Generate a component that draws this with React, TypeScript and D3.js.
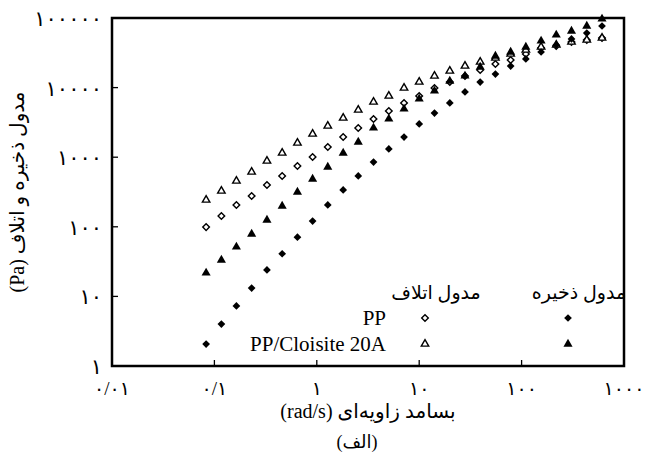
import React from "react";
import * as d3 from "d3";

// angular frequency, rad/s
const omega = [
  0.083, 0.117, 0.164, 0.231, 0.326, 0.459, 0.647, 0.91, 1.28, 1.81, 2.54, 3.58, 5.05, 7.11,
  10.0, 14.1, 19.9, 28.0, 39.4, 55.5, 78.2, 110, 155, 218, 307, 433, 610,
];

// PP storage modulus G' (Pa)
const ppStorage = [
  2.07, 4.0, 7.3, 13.2, 24, 41, 71, 121, 206, 338, 537, 853, 1312, 1950, 3000, 4315, 6010,
  8650, 12030, 15680, 20430, 25760, 32470, 40930, 49940, 60870, 76740,
];
// PP loss modulus G'' (Pa)
const ppLoss = [
  99, 143, 206, 277, 399, 537, 748, 1007, 1402, 1950, 2630, 3540, 4610, 6010, 7570, 9870,
  12030, 14690, 17900, 21830, 24930, 30400, 37070, 39630, 45190, 48300, 51600,
];
// PP/Cloisite 20A storage modulus
const ncStorage = [
  21.7, 33.3, 51.3, 78.8, 125, 199, 316, 486, 723, 1149, 1653, 2630, 3540, 4930, 6860, 8940,
  12440, 14690, 19770, 28440, 32470, 38290, 46740, 57020, 65010, 76740, 96800,
];
// PP/Cloisite 20A loss modulus
const ncLoss = [
  243, 327, 455, 613, 882, 1149, 1600, 2155, 2806, 3656, 4766, 6210, 7570, 9870, 12030, 14690,
  17330, 20430, 23330, 26610, 30400, 34690, 38290, 40930, 45190, 48300, 51600,
];

const xTicks = [0.01, 0.1, 1, 10, 100, 1000];
const xTickLabels = ["۰/۰۱", "۰/۱", "۱", "۱۰", "۱۰۰", "۱۰۰۰"];
const yTicks = [1, 10, 100, 1000, 10000, 100000];
const yTickLabels = ["۱", "۱۰", "۱۰۰", "۱۰۰۰", "۱۰۰۰۰", "۱۰۰۰۰۰"];

const FONT = "'Times New Roman', 'Liberation Serif', 'DejaVu Serif', 'DejaVu Sans', serif";
const PLOT = { left: 112, right: 624, top: 18, bottom: 366 };

type Kind = "diamond" | "triangle";

function Marker({ kind, filled, x, y }: { kind: Kind; filled: boolean; x: number; y: number }) {
  const path =
    kind === "diamond"
      ? d3.symbol(d3.symbolSquare, filled ? 30 : 22)()
      : d3.symbol(d3.symbolTriangle, filled ? 36 : 24)();
  return (
    <path
      d={path || ""}
      transform={`translate(${x},${y})${kind === "diamond" ? " rotate(45)" : ""}`}
      fill={filled ? "#000" : "#fff"}
      stroke="#000"
      strokeWidth={filled ? 0 : 1.4}
    />
  );
}

const txt = (size: number): React.CSSProperties => ({
  fontFamily: FONT,
  fontSize: size,
});

export default function App() {
  const width = 645;
  const height = 460;
  const x = d3.scaleLog().domain([0.01, 1000]).range([PLOT.left, PLOT.right]);
  const y = d3.scaleLog().domain([1, 100000]).range([PLOT.bottom, PLOT.top]);

  const series: { values: number[]; kind: Kind; filled: boolean }[] = [
    { values: ppLoss, kind: "diamond", filled: false },
    { values: ncLoss, kind: "triangle", filled: false },
    { values: ppStorage, kind: "diamond", filled: true },
    { values: ncStorage, kind: "triangle", filled: true },
  ];

  return (
    <svg
      width={width}
      height={height}
      style={{ position: "absolute", left: 0, top: 0, background: "#fff" }}
    >
      {/* data */}
      {series.map((s, si) =>
        s.values.map((v, i) => (
          <Marker key={`${si}-${i}`} kind={s.kind} filled={s.filled} x={x(omega[i])} y={y(v)} />
        )),
      )}

      {/* ticks, pointing inward */}
      {xTicks.map((t) => (
        <line key={`xt${t}`} x1={x(t)} x2={x(t)} y1={PLOT.bottom} y2={PLOT.bottom - 6} stroke="#000" strokeWidth={1.3} />
      ))}
      {yTicks.map((t) => (
        <line key={`yt${t}`} x1={PLOT.left} x2={PLOT.left + 6} y1={y(t)} y2={y(t)} stroke="#000" strokeWidth={1.3} />
      ))}

      {/* frame */}
      <rect
        x={PLOT.left}
        y={PLOT.top}
        width={PLOT.right - PLOT.left}
        height={PLOT.bottom - PLOT.top}
        fill="none"
        stroke="#000"
        strokeWidth={2.5}
      />

      {/* tick labels */}
      {xTicks.map((t, i) => (
        <text key={`xl${t}`} x={x(t)} y={PLOT.bottom + 29} textAnchor="middle" style={txt(19)}>
          {xTickLabels[i]}
        </text>
      ))}
      {yTicks.map((t, i) => (
        <text key={`yl${t}`} x={PLOT.left - 10} y={y(t)} dy="0.38em" textAnchor="end" style={txt(21)}>
          {yTickLabels[i]}
        </text>
      ))}

      {/* axis titles */}
      <text x={368} y={418} textAnchor="middle" direction="rtl" style={txt(20)}>
        بسامد زاویه‌ای (rad/s)
      </text>
      <text x={357} y={448} textAnchor="middle" direction="rtl" style={txt(18)}>
        (الف)
      </text>
      <text
        transform={`translate(24,${(PLOT.top + PLOT.bottom) / 2}) rotate(-90)`}
        textAnchor="middle"
        direction="rtl"
        style={txt(20)}
      >
        مدول ذخیره و اتلاف (Pa)
      </text>

      {/* legend */}
      <text x={579} y={299} textAnchor="middle" direction="rtl" style={txt(19)}>
        مدول ذخیره
      </text>
      <text x={436} y={299} textAnchor="middle" direction="rtl" style={txt(19)}>
        مدول اتلاف
      </text>
      <text x={386} y={325} textAnchor="end" style={txt(21)}>
        PP
      </text>
      <text x={386} y={351} textAnchor="end" style={txt(21)}>
        PP/Cloisite 20A
      </text>
      <Marker kind="diamond" filled={false} x={425} y={318} />
      <Marker kind="diamond" filled={true} x={568} y={318} />
      <Marker kind="triangle" filled={false} x={425} y={344} />
      <Marker kind="triangle" filled={true} x={568} y={344} />
    </svg>
  );
}
